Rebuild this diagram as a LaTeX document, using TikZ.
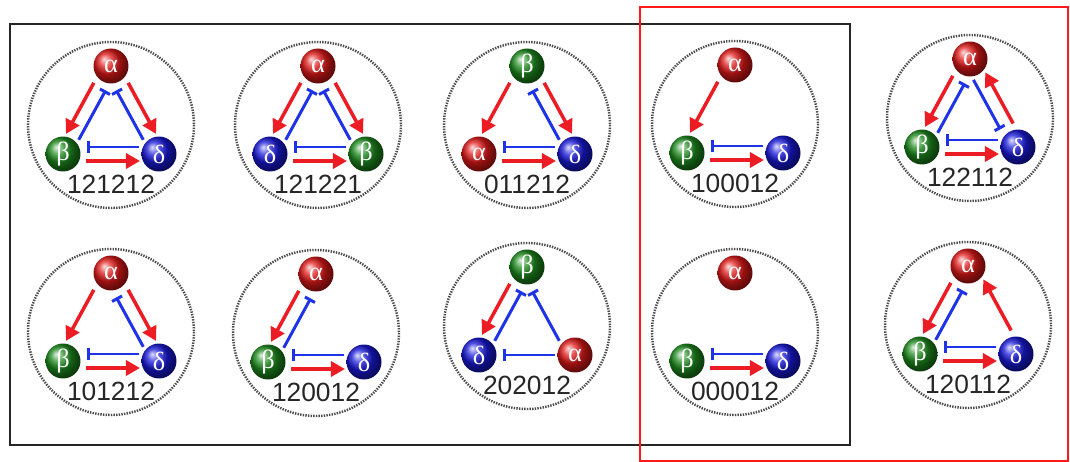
\documentclass[tikz,border=0pt]{standalone}
\usepackage{fontspec}
\setmainfont{Liberation Sans}
\newfontfamily\greekfont{Liberation Serif}
\usetikzlibrary{calc,arrows.meta}

\definecolor{actred}{RGB}{236,28,36}
\definecolor{inhblue}{RGB}{30,50,230}
\definecolor{alphared}{RGB}{225,25,25}
\definecolor{betagreen}{RGB}{30,140,30}
\definecolor{deltablue}{RGB}{25,25,220}

\tikzset{
    ring/.style={line width=1.4pt, black!70, dash pattern=on 0.8pt off 0.7pt},
    sphere/.style={circle, minimum size=0.7cm, inner sep=0pt, text=white,
        font=\greekfont\fontsize{15}{15}\selectfont},
    balla/.style={sphere, ball color=alphared},
    ballb/.style={sphere, ball color=betagreen},
    balld/.style={sphere, ball color=deltablue},
    motifcode/.style={font=\fontsize{15}{15}\selectfont, text=black!85},
    act/.style={actred, line width=2pt, -{Triangle[length=8pt,width=8.5pt]},
        shorten <=0.46cm, shorten >=0.38cm},
    inh/.style={inhblue, line width=1.7pt, -{Bar[width=6.5pt]},
        shorten <=0.40cm, shorten >=0.48cm}
}

\newcommand{\syma}{α}
\newcommand{\symb}{β}
\newcommand{\symd}{δ}

\newcommand{\lineoff}{0.14cm}
% offset lines: left / right of the direction of travel
\newcommand{\sideL}[3]{\draw[#1] ($(#2)!\lineoff!90:(#3)$) -- ($(#3)!\lineoff!-90:(#2)$);}
\newcommand{\sideR}[3]{\draw[#1] ($(#2)!\lineoff!-90:(#3)$) -- ($(#3)!\lineoff!90:(#2)$);}

% one motif: index, centre, top/left/right ball, code
\newcommand{\motif}[6]{%
    \draw[ring] (#2) circle (83);
    \node[ball#3] (#3#1) at ($(#2)+(0,-59)$) {\csname sym#3\endcsname};
    \node[ball#4] (#4#1) at ($(#2)+(-48,29)$) {\csname sym#4\endcsname};
    \node[ball#5] (#5#1) at ($(#2)+(48,29)$) {\csname sym#5\endcsname};
    \node[motifcode] (code#1) at ($(#2)+(0,59)$) {#6};
}

\begin{document}
\begin{tikzpicture}[x=0.02cm, y=-0.02cm]

    \useasboundingbox (0,0) rectangle (1070,462);

    \draw[line width=1.3pt, black!85] (10,24) rectangle (850,445);
    \draw[line width=1.1pt, red!90] (640,7) rectangle (1068,461);

    \motif{1}{111,125}{a}{b}{d}{121212}
    \motif{2}{318,125}{a}{d}{b}{121221}
    \motif{3}{527,125}{b}{a}{d}{011212}
    \motif{4}{735,124}{a}{b}{d}{100012}
    \motif{5}{970,118}{a}{b}{d}{122112}
    \motif{6}{111,332}{a}{b}{d}{101212}
    \motif{7}{316,333}{a}{b}{d}{120012}
    \motif{8}{527,326}{b}{d}{a}{202012}
    \motif{9}{735,332}{a}{b}{d}{000012}
    \motif{10}{968,325}{a}{b}{d}{120112}

    % 121212
    \sideR{act}{a1}{b1}
    \sideR{inh}{b1}{a1}
    \sideL{act}{a1}{d1}
    \sideL{inh}{d1}{a1}
    \sideR{inh}{d1}{b1}
    \sideR{act}{b1}{d1}

    % 121221
    \sideR{act}{a2}{d2}
    \sideR{inh}{d2}{a2}
    \sideL{act}{a2}{b2}
    \sideL{inh}{b2}{a2}
    \sideR{inh}{b2}{d2}
    \sideR{act}{d2}{b2}

    % 011212
    \sideR{act}{b3}{a3}
    \sideL{act}{b3}{d3}
    \sideL{inh}{d3}{b3}
    \sideR{inh}{d3}{a3}
    \sideR{act}{a3}{d3}

    % 100012
    \sideR{act}{a4}{b4}
    \sideR{inh}{d4}{b4}
    \sideR{act}{b4}{d4}

    % 122112
    \sideR{act}{a5}{b5}
    \sideR{inh}{b5}{a5}
    \sideR{act}{d5}{a5}
    \sideR{inh}{a5}{d5}
    \sideR{inh}{d5}{b5}
    \sideR{act}{b5}{d5}

    % 101212
    \sideR{act}{a6}{b6}
    \sideL{act}{a6}{d6}
    \sideL{inh}{d6}{a6}
    \sideR{inh}{d6}{b6}
    \sideR{act}{b6}{d6}

    % 120012
    \sideR{act}{a7}{b7}
    \sideR{inh}{b7}{a7}
    \sideR{inh}{d7}{b7}
    \sideR{act}{b7}{d7}

    % 202012
    \sideR{act}{b8}{d8}
    \sideR{inh}{d8}{b8}
    \sideL{inh}{a8}{b8}
    \draw[inh] (a8.center) -- (d8.center);

    % 000012
    \sideR{inh}{d9}{b9}
    \sideR{act}{b9}{d9}

    % 120112
    \sideR{act}{a10}{b10}
    \sideR{inh}{b10}{a10}
    \sideR{act}{d10}{a10}
    \sideR{inh}{d10}{b10}
    \sideR{act}{b10}{d10}

\end{tikzpicture}
\end{document}
